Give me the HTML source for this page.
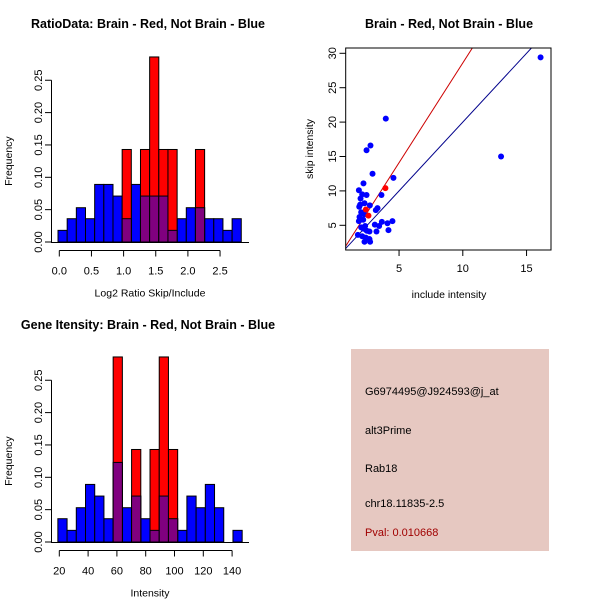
<!DOCTYPE html>
<html><head><meta charset="utf-8"><style>
body{margin:0;background:#fff}
svg{display:block;font-family:"Liberation Sans",sans-serif}
</style></head><body>
<svg id="s" width="600" height="600" xmlns="http://www.w3.org/2000/svg">
<text x="148" y="28" text-anchor="middle" font-size="12.5" font-weight="bold">RatioData: Brain - Red, Not Brain - Blue</text>
<text x="449" y="28" text-anchor="middle" font-size="12.5" font-weight="bold">Brain - Red, Not Brain - Blue</text>
<text x="148" y="329" text-anchor="middle" font-size="12.5" font-weight="bold">Gene Itensity: Brain - Red, Not Brain - Blue</text>
<g id="h1"></g>
<g id="h2"></g>
<g id="sc"></g>
<g>
<rect x="351" y="349" width="198" height="202" fill="#e6c8c1"/>
<g font-size="11">
<text x="365" y="395">G6974495@J924593@j_at</text>
<text x="365" y="434">alt3Prime</text>
<text x="365" y="472">Rab18</text>
<text x="365" y="507">chr18.11835-2.5</text>
<text x="365" y="536" fill="#a00000">Pval: 0.010668</text>
</g></g>
</svg>
<script>
// Ratio histogram data
const ratioBlue=[0.018,0.036,0.053,0.036,0.089,0.089,0.071,0.036,0.089,0.071,0.071,0.071,0.018,0.036,0.053,0.053,0.036,0.036,0.018,0.036];
const ratioRed=[0,0,0,0,0,0,0,0.143,0,0.143,0.286,0.143,0.143,0,0,0.143,0,0,0,0];
const ratioTicks=[0,0.5,1,1.5,2,2.5];
const ratioTickLabels=["0.0","0.5","1.0","1.5","2.0","2.5"];
const ratioStart=-0.02, ratioBin=0.1425;
// Intensity histogram data
const intBlue=[0.036,0.018,0.053,0.089,0.071,0.036,0.123,0.053,0.071,0.036,0.018,0.071,0.036,0.018,0.071,0.053,0.089,0.053,0,0.018];
const intRed=[0,0,0,0,0,0,0.286,0,0.143,0,0.143,0.286,0.143,0,0,0,0,0,0,0];
const intTicks=[20,40,60,80,100,120,140];
const intStart=19, intBin=6.4;
const freqTicks=[0,0.05,0.1,0.15,0.2,0.25];
const freqTickLabels=["0.00","0.05","0.10","0.15","0.20","0.25"];
// Scatter data
const incl=[16.1,13.0,3.96,2.76,2.45,2.92,4.56,2.21,1.85,3.62,2.11,2.45,1.98,2.29,1.95,2.71,1.88,3.31,3.18,2.03,2.27,1.90,2.19,1.85,3.65,4.48,4.09,3.10,3.44,2.34,2.03,2.21,2.47,2.68,3.23,4.17,1.77,2.11,2.40,2.68,2.29,2.73];
const skip=[29.4,15.0,20.5,16.6,15.9,12.5,11.9,11.1,10.1,9.4,9.5,9.4,8.9,8.2,8.0,7.9,7.7,7.5,7.2,6.9,6.6,6.2,5.8,5.6,5.5,5.6,5.3,5.1,4.9,4.9,4.7,4.5,4.2,4.1,4.1,4.3,3.6,3.4,3.2,3.0,2.6,2.6];
const inclRed=[3.93,2.40,2.60];
const skipRed=[10.4,7.3,6.4];
const scXTicks=[5,10,15], scYTicks=[5,10,15,20,25,30];
const blueLine=[2.0,0], redLine=[2.9,-0.4]; // slope, intercept

const NS="http://www.w3.org/2000/svg";
function mk(p,t,a){const e=document.createElementNS(NS,t);for(const k in a)e.setAttribute(k,a[k]);p.appendChild(e);return e;}

function hist(g,blue,red,start,bin,xs,ys,xTicks,xLabels,xTitle,y0,xAxisFrom,xAxisTo){
  for(let i=0;i<blue.length;i++){
    const x0=xs(start+i*bin),x1=xs(start+(i+1)*bin);
    if(blue[i]>0){const r=mk(g,'rect',{x:x0,y:ys(blue[i]),width:x1-x0,height:ys(0)-ys(blue[i]),fill:'#0000ff',stroke:'#000','stroke-width':1});
    
    }
  }
  for(let i=0;i<red.length;i++){
    if(red[i]<=0)continue;
    const x0=xs(start+i*bin),x1=xs(start+(i+1)*bin);
    const r=mk(g,'rect',{x:x0,y:ys(red[i]),width:x1-x0,height:ys(0)-ys(red[i]),fill:'#ff0000',stroke:'#000','stroke-width':1});
    
    
    const m=Math.min(red[i],blue[i]);
    if(m>0){const p=mk(g,'rect',{x:x0,y:ys(m),width:x1-x0,height:ys(0)-ys(m),fill:'#80007f',stroke:'#000','stroke-width':1});
    
    }
  }
  mk(g,'line',{x1:51.5,y1:ys(0),x2:51.5,y2:ys(0.25),stroke:'#000'});
  freqTicks.forEach((v,i)=>{mk(g,'line',{x1:45,y1:ys(v),x2:51.5,y2:ys(v),stroke:'#000'});
    const t=mk(g,'text',{x:0,y:0,transform:`translate(42,${ys(v)}) rotate(-90)`,'text-anchor':'middle','font-size':11});t.textContent=freqTickLabels[i];
    
    });
  const yt=mk(g,'text',{transform:`translate(12,${ys(0.125)}) rotate(-90)`,'text-anchor':'middle','font-size':10.5});yt.textContent='Frequency';
  
  
  const ay=y0+8.5;
  mk(g,'line',{x1:xs(xAxisFrom),y1:ay,x2:xs(xAxisTo),y2:ay,stroke:'#000'});
  mk(g,'line',{x1:51,y1:ys(0)+0.5,x2:249,y2:ys(0)+0.5,stroke:'#000'});
  xTicks.forEach((v,i)=>{mk(g,'line',{x1:xs(v),y1:ay,x2:xs(v),y2:ay+6,stroke:'#000'});
    const t=mk(g,'text',{x:xs(v),y:ay+24,'text-anchor':'middle','font-size':11});t.textContent=xLabels[i];
    
    });
  const xt=mk(g,'text',{x:150,y:ay+46,'text-anchor':'middle','font-size':10.5});xt.textContent=xTitle;
  
  
}
const h1=document.getElementById('h1');
const xs1=v=>59.3+v*64.3, ys1=v=>242-v*647;
hist(h1,ratioBlue,ratioRed,ratioStart,ratioBin,xs1,ys1,ratioTicks,ratioTickLabels,'Log2 Ratio Skip/Include',242,0,2.5);
const h2=document.getElementById('h2');
const xs2=v=>59.3+(v-20)*1.44, ys2=v=>542-v*647;
hist(h2,intBlue,intRed,intStart,intBin,xs2,ys2,intTicks,intTicks.map(String),'Intensity',542,20,140);

const sc=document.getElementById('sc');
const sx=v=>335.3+v*12.75, sy=v=>259.7-v*6.88;
const cp=mk(sc,'clipPath',{id:'cl'});mk(cp,'rect',{x:345.7,y:48,width:205.3,height:202});
[[blueLine,'#00008b'],[redLine,'#cd0000']].forEach(([L,c])=>{
  const l=mk(sc,'line',{x1:sx(0),y1:sy(L[1]),x2:sx(20),y2:sy(L[0]*20+L[1]),stroke:c,'clip-path':'url(#cl)'});
  
  
});
incl.forEach((v,i)=>{const c=mk(sc,'circle',{cx:sx(v),cy:sy(skip[i]),r:3,fill:'#0000ff'});
  
  });
inclRed.forEach((v,i)=>{const c=mk(sc,'circle',{cx:sx(v),cy:sy(skipRed[i]),r:3,fill:'#ff0000'});
  
  });
mk(sc,'rect',{x:345.7,y:48,width:205.3,height:202,fill:'none',stroke:'#000'});
scXTicks.forEach(v=>{mk(sc,'line',{x1:sx(v),y1:250,x2:sx(v),y2:256,stroke:'#000'});
  const t=mk(sc,'text',{x:sx(v),y:272,'text-anchor':'middle','font-size':11});t.textContent=v;
  
  });
scYTicks.forEach(v=>{mk(sc,'line',{x1:339.5,y1:sy(v),x2:345.7,y2:sy(v),stroke:'#000'});
  const t=mk(sc,'text',{transform:`translate(336,${sy(v)}) rotate(-90)`,'text-anchor':'middle','font-size':11});t.textContent=v;
  
  });
const sxt=mk(sc,'text',{x:449,y:298,'text-anchor':'middle','font-size':10.5});sxt.textContent='include intensity';


const syt=mk(sc,'text',{transform:'translate(313,149) rotate(-90)','text-anchor':'middle','font-size':10.5});syt.textContent='skip intensity';


</script>
</body></html>
